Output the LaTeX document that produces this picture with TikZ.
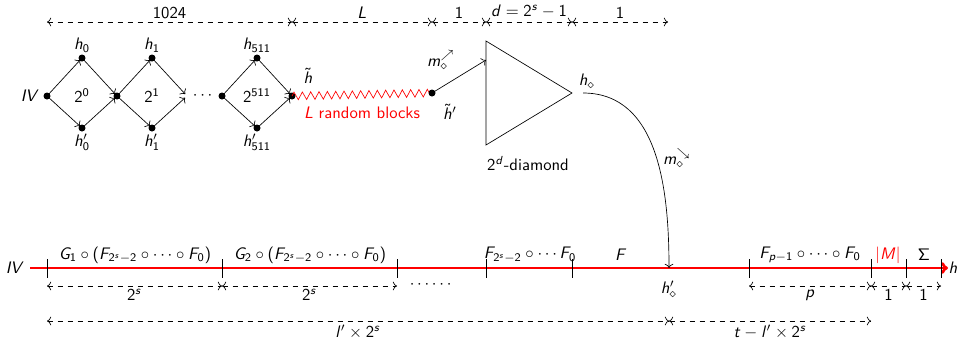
\documentclass[tikz,border=0pt]{standalone}
\usepackage{amsmath,amssymb}
\usepackage{tikz}
\usetikzlibrary{arrows.meta,calc,decorations.pathmorphing,positioning}
\renewcommand{\familydefault}{\sfdefault}
% sans serif math, as on slides
\DeclareSymbolFont{operators}{OT1}{cmss}{m}{n}
\DeclareSymbolFont{sfletters}{OT1}{cmss}{m}{sl}
\DeclareMathSymbol{d}{\mathalpha}{sfletters}{`d}
\DeclareMathSymbol{h}{\mathalpha}{sfletters}{`h}
\DeclareMathSymbol{l}{\mathalpha}{sfletters}{`l}
\DeclareMathSymbol{m}{\mathalpha}{sfletters}{`m}
\DeclareMathSymbol{p}{\mathalpha}{sfletters}{`p}
\DeclareMathSymbol{s}{\mathalpha}{sfletters}{`s}
\DeclareMathSymbol{t}{\mathalpha}{sfletters}{`t}
\DeclareMathSymbol{F}{\mathalpha}{sfletters}{`F}
\DeclareMathSymbol{G}{\mathalpha}{sfletters}{`G}
\DeclareMathSymbol{I}{\mathalpha}{sfletters}{`I}
\DeclareMathSymbol{L}{\mathalpha}{sfletters}{`L}
\DeclareMathSymbol{M}{\mathalpha}{sfletters}{`M}
\DeclareMathSymbol{V}{\mathalpha}{sfletters}{`V}

\begin{document}
\begin{tikzpicture}[
  x=0.6pt,y=-0.6pt,
  dot/.style={circle,fill,inner sep=0pt,minimum size=4.2pt},
  flow/.style={->,shorten >=1.5pt},
  dim/.style={<->,dashed},
  tick/.style={thin},
  chain/.style={-{To[length=4pt,width=7pt]},red,line width=1.6pt}
]
  \useasboundingbox (0,0) rectangle (957,341);

  % diamonds: left point, top, bottom, right point
  \foreach \i/\x/\k in {0/47/0,1/117/1,2/222/511} {
    \coordinate (l\i) at (\x,96);
    \coordinate (t\i) at (\x+35,58);
    \coordinate (b\i) at (\x+35,128);
    \coordinate (r\i) at (\x+70,96);
    \draw[flow] (l\i) -- (t\i);
    \draw[flow] (l\i) -- (b\i);
    \draw[flow] (t\i) -- (r\i);
    \draw[flow] (b\i) -- (r\i);
    \fill (l\i) circle (2.1pt) (t\i) circle (2.1pt) (b\i) circle (2.1pt);
    \node[above] (ht\i) at (t\i) {$h_{\k}$};
    \node[below] (hb\i) at (b\i) {$h'_{\k}$};
    \node (pw\i) at (\x+35,96) {$2^{\k}$};
  }
  \fill (r2) circle (2.1pt);
  \node (iv) at (30,96) {$IV$};
  \node (gap) at (204,96) {$\cdots$};

  % random blocks
  \coordinate (hp) at (432,93);
  \draw[red,decorate,decoration={zigzag,segment length=5pt,amplitude=2.3pt}]
    (r2) -- (hp);
  \fill (hp) circle (2.1pt);
  \node[red] (rb) at (362,113) {$L$ random blocks};
  \node (htl) at (308,76) {$\tilde h$};
  \node (hpl) at (450,112) {$\tilde h'$};

  % the big diamond
  \coordinate (ta) at (486,41);
  \coordinate (tb) at (486,145);
  \coordinate (tc) at (572,93);
  \draw (ta) -- (tb) -- (tc) -- cycle;
  \coordinate (tin) at (486,60);
  \draw[->] (hp) -- (tin);
  \node (min) at (441,60) {$m_\diamond^{\nearrow}$};
  \node (dl) at (528,164) {$2^d$-diamond};
  \node (hd) at (587,81) {$h_\diamond$};

  % top dimensions
  \foreach \n/\x in {0/47,1/292,2/432,3/486,4/572,5/668}
    \coordinate (d\n) at (\x,22);
  \foreach \a/\b/\t in {0/1/$1024$,1/2/$L$,2/3/$1$,3/4/$d=2^s-1$,4/5/$1$}
    \draw[dim] (d\a) -- node[above,inner sep=2pt] {\t} (d\b);

  % the chain
  \coordinate (cs) at (30,268);
  \coordinate (ce) at (948,268);
  \draw[chain] (cs) -- (ce);
  \node (iv2) at (15,268) {$IV$};
  \node (hend) at (953,268) {$h$};
  \foreach \x in {47,222,397,486,572,749,871,906,941}
    \draw[tick] (\x,259) -- (\x,278);

  \node (g1) at (135,255) {$G_1\circ(F_{2^s-2}\circ\cdots\circ F_0)$};
  \node (g2) at (310,255) {$G_2\circ(F_{2^s-2}\circ\cdots\circ F_0)$};
  \node (fs) at (530,255) {$F_{2^s-2}\circ\cdots F_0$};
  \node (ff) at (621,255) {$F$};
  \node (fp) at (810,255) {$F_{p-1}\circ\cdots\circ F_0$};
  \node[red] (mm) at (888,255) {$|M|$};
  \node (sg) at (924,255) {$\Sigma$};

  % output of the diamond into the chain
  \coordinate (hs) at (583,93);
  \coordinate (hq) at (669,268);
  \draw[->] (hs) to[out=0,in=90] (hq);
  \node (mout) at (677,158) {$m_\diamond^{\searrow}$};
  \node (hql) at (669,289) {$h'_\diamond$};

  % lower dimensions
  \foreach \n/\x in {0/47,1/222,2/397,3/749,4/871,5/906,6/941}
    \coordinate (e\n) at (\x,286);
  \foreach \a/\b/\t in {0/1/$2^s$,1/2/$2^s$,3/4/$p$,4/5/$1$,5/6/$1$}
    \draw[dim] (e\a) -- node[below,inner sep=2pt] {\t} (e\b);
  \node (more) at (432,285) {$\cdots\cdots$};

  \coordinate (f0) at (47,321);
  \coordinate (f1) at (669,321);
  \coordinate (f2) at (871,321);
  \draw[dim] (f0) -- node[below,inner sep=2pt] {$l'\times2^s$} (f1);
  \draw[dim] (f1) -- node[below,inner sep=2pt] {$t-l'\times2^s$} (f2);
\end{tikzpicture}
\end{document}
